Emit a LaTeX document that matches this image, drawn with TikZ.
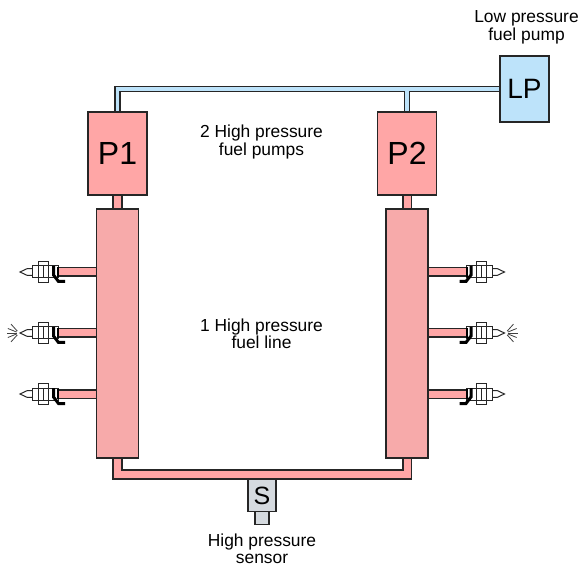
\documentclass[tikz,border=0pt]{standalone}
\usepackage{fontspec}
\setmainfont{Liberation Sans}
\usetikzlibrary{backgrounds}

\definecolor{pumpred}{HTML}{FFA6A6}
\definecolor{railred}{HTML}{F7AAAA}
\definecolor{lowblue}{HTML}{BDE3FA}
\definecolor{sensorgrey}{HTML}{D5DADF}

\tikzset{
  box/.style={draw=black!85, line width=1.5pt, inner sep=0pt},
  pump/.style={box, fill=pumpred, minimum width=59pt, minimum height=83pt, font=\fontsize{32}{32}\selectfont},
  rail/.style={box, fill=railred, minimum width=42pt, minimum height=249pt},
  caption/.style={align=center, font=\fontsize{17.4}{17.5}\selectfont},
  pipeout/.style={draw=black!85, line width=6.5pt},
  pipein/.style={draw=lowblue, line width=3.5pt},
  highout/.style={draw=black!85, line width=10.5pt},
  highin/.style={draw=pumpred, line width=7pt},
  branchout/.style={draw=black!85, line width=9.6pt},
  branchin/.style={draw=pumpred, line width=7pt},
  part/.style={draw=black!85, line width=1pt, fill=white},
  injector/.pic={
    \draw[part] (-26,-3.3) -- (-31,-3.3) -- (-38,0) -- (-31,3.3) -- (-26,3.3);
    \draw[part] (-26,-6) rectangle (0,6);
    \draw[part] (-19.7,-10.3) rectangle (-9.7,10.3);
    \draw[part] (-19.7,-6) -- (-9.7,-6) (-19.7,6) -- (-9.7,6) (-14.7,-6) -- (-14.7,6);
    \draw[draw=black, line width=2pt] (0,-5) -- (0,5);
    \draw[draw=black, line width=3pt] (-4.5,-6) -- (-4.5,3) -- (0.5,9.5) -- (7,9.5);
  },
  spray/.pic={
    \foreach \a in {-48,-22,0,22,48}
      \draw[black!75, line width=0.8pt] (180+\a:2.5) -- (180+\a:12);
  }
}

\begin{document}
\begin{tikzpicture}[x=1pt,y=-1pt]
\useasboundingbox (0,0) rectangle (582,567);

\node[pump] (P1) at (117.5,153.5) {P1};
\node[pump] (P2) at (407,153.5) {P2};
\node[box, fill=lowblue, minimum width=49pt, minimum height=66pt, font=\fontsize{28}{28}\selectfont] (LP) at (524.5,89) {LP};
\node[rail] (rail1) at (117.5,333.5) {};
\node[rail] (rail2) at (407,333.5) {};
\node[box, fill=sensorgrey, minimum width=28pt, minimum height=32pt, font=\fontsize{25}{25}\selectfont] (S) at (262,495.5) {S};
\node[box, fill=sensorgrey, minimum width=14pt, minimum height=13pt] (Stip) at (262,518) {};

\coordinate (bus) at (262,474.5);
\coordinate (injL1) at (58,272);
\coordinate (injL2) at (58,333);
\coordinate (injL3) at (58,394);
\coordinate (injR1) at (466.5,272);
\coordinate (injR2) at (466.5,333);
\coordinate (injR3) at (466.5,394);

\begin{scope}[on background layer]
% low pressure side
\draw[pipeout] (P1.north) |- (LP.west);
\draw[pipeout] (P2.north) -- (P2.north |- LP.west);
\draw[pipein] (P1.north) |- (LP.west);
\draw[pipein] (P2.north) -- (P2.north |- LP.west);

% high pressure side
\draw[highout] (P1) -- (rail1);
\draw[highout] (P2) -- (rail2);
\draw[highin] (P1) -- (rail1);
\draw[highin] (P2) -- (rail2);
\draw[highout] (rail1.south) |- (bus) -| (rail2.south);
\draw[highin] (rail1.south) |- (bus) -| (rail2.south);

\draw[branchout] (injL1) -- (injL1 -| rail1.west);
\draw[branchout] (injL2) -- (injL2 -| rail1.west);
\draw[branchout] (injL3) -- (injL3 -| rail1.west);
\draw[branchout] (injR1) -- (injR1 -| rail2.east);
\draw[branchout] (injR2) -- (injR2 -| rail2.east);
\draw[branchout] (injR3) -- (injR3 -| rail2.east);
\draw[branchin] (injL1) -- (injL1 -| rail1.west);
\draw[branchin] (injL2) -- (injL2 -| rail1.west);
\draw[branchin] (injL3) -- (injL3 -| rail1.west);
\draw[branchin] (injR1) -- (injR1 -| rail2.east);
\draw[branchin] (injR2) -- (injR2 -| rail2.east);
\draw[branchin] (injR3) -- (injR3 -| rail2.east);
\end{scope}

\pic at (injL1) {injector};
\pic at (injL2) {injector};
\pic at (injL3) {injector};
\pic[xscale=-1] at (injR1) {injector};
\pic[xscale=-1] at (injR2) {injector};
\pic[xscale=-1] at (injR3) {injector};
\pic at (19,333) {spray};
\pic at (505.5,333) [xscale=-1] {spray};

\node[caption] (lowtext) at (526.5,27.5) {Low pressure\\fuel pump};
\node[caption] (pumptext) at (261.5,142) {2 High pressure\\fuel pumps};
\node[caption] (linetext) at (261.5,334) {1 High pressure\\fuel line};
\node[caption] (sensortext) at (262,549) {High pressure\\sensor};
\end{tikzpicture}
\end{document}
